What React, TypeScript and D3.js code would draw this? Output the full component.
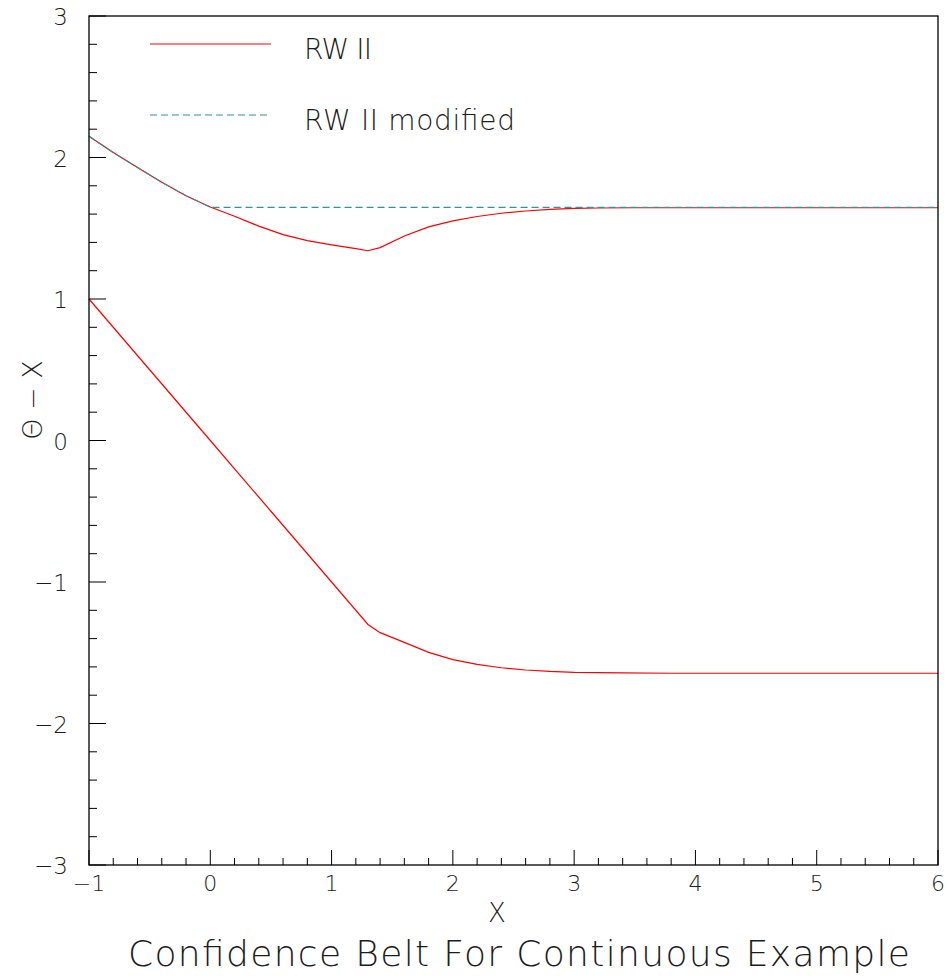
import React from 'react';
import * as d3 from 'd3';

// RW II belt, upper and lower edges (Theta - X versus X)
const upperX = [-1, -0.8, -0.6, -0.4, -0.2, 0, 0.2, 0.4, 0.6, 0.8, 1.0, 1.2, 1.3, 1.4, 1.6, 1.8, 2.0, 2.2, 2.4, 2.6, 2.8, 3.0, 3.2, 3.5, 4.0, 5.0, 6.0];
const upperY = [2.15, 2.035, 1.93, 1.825, 1.73, 1.65, 1.585, 1.515, 1.455, 1.413, 1.383, 1.356, 1.341, 1.363, 1.445, 1.51, 1.552, 1.583, 1.606, 1.622, 1.633, 1.64, 1.643, 1.645, 1.645, 1.645, 1.645];

const lowerX = [-1, -0.5, 0, 0.5, 1.0, 1.3, 1.4, 1.6, 1.8, 2.0, 2.2, 2.4, 2.6, 2.8, 3.0, 3.4, 3.8, 5.0, 6.0];
const lowerY = [1.0, 0.5, 0.0, -0.5, -1.0, -1.3, -1.358, -1.427, -1.497, -1.548, -1.582, -1.606, -1.622, -1.632, -1.638, -1.642, -1.645, -1.645, -1.645];

// RW II modified: follows the upper edge until it reaches 1.645, then flat
const modX = [-1, -0.8, -0.6, -0.4, -0.2, 0, 6.0];
const modY = [2.15, 2.035, 1.93, 1.825, 1.73, 1.648, 1.648];

const xTicks = [-1, 0, 1, 2, 3, 4, 5, 6];
const yTicks = [-3, -2, -1, 0, 1, 2, 3];

const frame = { left: 89, top: 16, right: 938, bottom: 865 };
const font = '"DejaVu Sans", sans-serif';
const ink = '#1c1c1c';

const fmt = (v: number) => (v < 0 ? '\u2212' : '') + Math.abs(v);

const App = () => {
  const x = d3.scaleLinear().domain([-1, 6]).range([frame.left, frame.right]);
  const y = d3.scaleLinear().domain([-3, 3]).range([frame.bottom, frame.top]);

  const line = d3
    .line<[number, number]>()
    .x((d) => x(d[0]))
    .y((d) => y(d[1]));

  const upper = line(upperX.map((v, i) => [v, upperY[i]]) as [number, number][]);
  const lower = line(lowerX.map((v, i) => [v, lowerY[i]]) as [number, number][]);
  const modified = line(modX.map((v, i) => [v, modY[i]]) as [number, number][]);

  const xMinor = d3.range(-1, 6.0001, 0.2);
  const yMinor = d3.range(-3, 3.0001, 0.2);

  return (
    <svg
      width={947}
      height={976}
      style={{ position: 'absolute', left: 0, top: 0, background: '#fff' }}
      fontFamily={font}
      fontWeight={200}
    >
      {/* curves */}
      <path d={upper || ''} fill="none" stroke="#ff0000" strokeWidth={1.2} />
      <path d={lower || ''} fill="none" stroke="#ff0000" strokeWidth={1.2} />
      <path d={modified || ''} fill="none" stroke="#2f9696" strokeWidth={1.2} strokeDasharray="7,4" />

      {/* frame */}
      <rect
        x={frame.left}
        y={frame.top}
        width={frame.right - frame.left}
        height={frame.bottom - frame.top}
        fill="none"
        stroke="#000"
        strokeWidth={1.3}
      />

      {/* x ticks */}
      {xMinor.map((v, i) => (
        <line key={'xm' + i} x1={x(v)} x2={x(v)} y1={frame.bottom} y2={frame.bottom - (i % 5 === 0 ? 15 : 7)} stroke="#000" strokeWidth={1} />
      ))}
      {xTicks.map((v) => (
        <text key={'xt' + v} x={x(v)} y={891} textAnchor="middle" fontSize={22} fill={ink}>
          {fmt(v)}
        </text>
      ))}

      {/* y ticks */}
      {yMinor.map((v, i) => (
        <line key={'ym' + i} x1={frame.left} x2={frame.left + (i % 5 === 0 ? 17 : 8)} y1={y(v)} y2={y(v)} stroke="#000" strokeWidth={1} />
      ))}
      {yTicks.map((v) => (
        <text key={'yt' + v} x={68} y={y(v) + 9} textAnchor="end" fontSize={23} fill={ink}>
          {fmt(v)}
        </text>
      ))}

      {/* axis titles */}
      <text x={497} y={922} textAnchor="middle" fontSize={26} fill={ink}>
        X
      </text>
      <text
        transform={`translate(42, 400) rotate(-90)`}
        textAnchor="middle"
        fontSize={27}
        fill={ink}
      >
        {'\u0398 \u2212 X'}
      </text>

      {/* legend */}
      <line x1={150} x2={271} y1={44} y2={44} stroke="#ff0000" strokeWidth={1.2} />
      <text x={304} y={59} fontSize={28} fill={ink} textLength={68} lengthAdjust="spacing">
        RW II
      </text>
      <line x1={150} x2={271} y1={115} y2={115} stroke="#2f9696" strokeWidth={1.2} strokeDasharray="7,4" />
      <text x={304} y={130} fontSize={28} fill={ink} textLength={211} lengthAdjust="spacing">
        RW II modified
      </text>

      {/* title */}
      <text x={128} y={966} fontSize={36} fill={ink} textLength={782} lengthAdjust="spacing">
        Confidence Belt For Continuous Example
      </text>
    </svg>
  );
};

export default App;
